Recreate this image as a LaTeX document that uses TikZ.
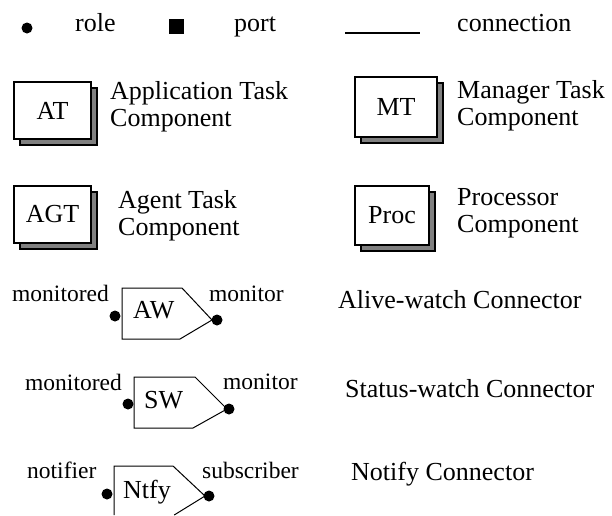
\documentclass[tikz,border=0pt]{standalone}
\usepackage{fontspec}
\setmainfont{Liberation Serif}
\usetikzlibrary{shadows}
\definecolor{shadowgray}{RGB}{128,128,128}

\begin{document}
\begin{tikzpicture}[x=1pt, y=-1pt,
    txt/.style={anchor=base west, inner sep=0pt, align=left, font=\fontsize{26}{27}\selectfont},
    rolelbl/.style={anchor=base west, inner sep=0pt, font=\fontsize{23.5}{26}\selectfont},
    comp/.style={draw, line width=1.2pt, fill=white, inner sep=0pt, font=\fontsize{26}{27}\selectfont,
      copy shadow={shadow xshift=6pt, shadow yshift=-6pt, fill=shadowgray, draw=black, line width=1.2pt}},
    role/.style={circle, fill=black, inner sep=0pt, minimum size=11pt},
    port/.style={rectangle, fill=black, inner sep=0pt, minimum size=15pt},
    conn/.style={line width=1pt, line join=miter}]
    \useasboundingbox (0,0) rectangle (612,515);

    % legend
    \node[role] (legrole) at (27,28) {};
    \node[txt] (roletxt) at (75,31) {role};
    \node[port] (legport) at (176.5,26.5) {};
    \node[txt] (porttxt) at (234,31) {port};
    \coordinate (lineA) at (345,33);
    \coordinate (lineB) at (420,33);
    \draw[line width=1.3pt] (lineA) -- (lineB);
    \node[txt] (conntxt) at (457,31) {connection};

    % components (text node base = last line)
    \node[comp, minimum width=77pt, minimum height=57pt] (at) at (52.5,110.5) {AT};
    \node[txt] (attxt) at (110,126) {Application Task\\Component};
    \node[comp, minimum width=82pt, minimum height=60pt] (mt) at (396,107) {MT};
    \node[txt] (mttxt) at (457,125) {Manager Task\\Component};
    \node[comp, minimum width=77pt, minimum height=57pt] (agt) at (52.5,214.5) {AGT};
    \node[txt] (agttxt) at (118,235) {Agent Task\\Component};
    \node[comp, minimum width=74pt, minimum height=59pt] (proc) at (392,215.5) {Proc};
    \node[txt] (proctxt) at (457,232) {Processor\\Component};

    % alive-watch
    \draw[conn] (122,339) -- (122,288) -- (182,288) -- (212,320) -- (180,339) -- cycle;
    \node[role] (awl) at (115,316) {};
    \node[role] (awr) at (217,320) {};
    \node[txt] (aw) at (133,318) {AW};
    \node[rolelbl] at (12,301) {monitored};
    \node[rolelbl] at (209,301) {monitor};
    \node[txt] (awtxt) at (338,308) {Alive-watch Connector};

    % status-watch
    \draw[conn] (134,428) -- (134,377) -- (195,377) -- (227,409) -- (193,428) -- cycle;
    \node[role] (swl) at (128,404) {};
    \node[role] (swr) at (229,409) {};
    \node[txt] (sw) at (144,408) {SW};
    \node[rolelbl] at (25,390) {monitored};
    \node[rolelbl] at (223,389) {monitor};
    \node[txt] (swtxt) at (345,397) {Status-watch Connector};

    % notify
    \draw[conn] (114,515) -- (114,466) -- (173,466) -- (205,496) -- (174.2,515);
    \node[role] (ntl) at (107,494) {};
    \node[role] (ntr) at (209,496) {};
    \node[txt] (ntfy) at (123,498) {Ntfy};
    \node[rolelbl] at (27,478) {notifier};
    \node[rolelbl] at (202,478) {subscriber};
    \node[txt] (nttxt) at (351,480) {Notify Connector};
\end{tikzpicture}
\end{document}
